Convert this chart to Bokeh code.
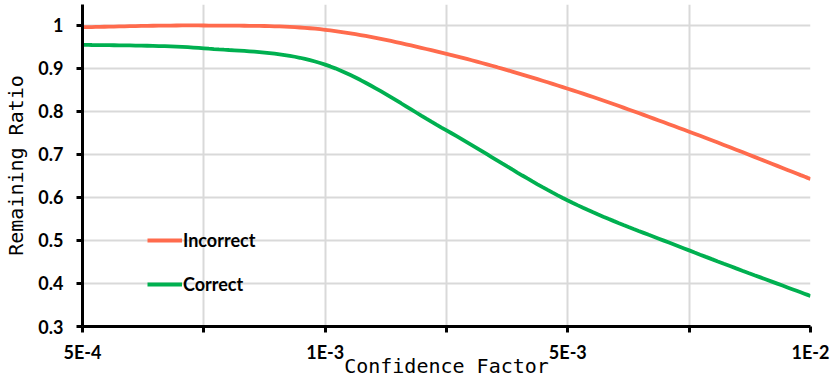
import numpy as np
from bokeh.plotting import figure
from bokeh.models import Legend, LegendItem, FixedTicker
from bokeh.embed import file_html
from bokeh.resources import INLINE

# ---- data ----
categories = ["5E-4", "", "1E-3", "", "5E-3", "", "1E-2"]
incorrect = [0.996, 1.000, 0.990, 0.934, 0.853, 0.753, 0.643]
correct = [0.955, 0.947, 0.909, 0.756, 0.593, 0.477, 0.371]
y_ticks = [0.3, 0.4, 0.5, 0.6, 0.7, 0.8, 0.9, 1.0]
y_tick_labels = ["0.3", "0.4", "0.5", "0.6", "0.7", "0.8", "0.9", "1"]
x_title = "Confidence Factor"
y_title = "Remaining Ratio"

ORANGE = "#FF6B4D"
GREEN = "#00B050"
GRID = "#D9D9D9"
Y0, Y1 = 0.3, 1.0488


def smooth(xs, ys, n=24):
    pts = np.column_stack([np.asarray(xs, float), np.asarray(ys, float)])
    out = []
    for i in range(len(pts) - 1):
        p0 = pts[i - 1] if i > 0 else pts[i]
        p1 = pts[i]
        p2 = pts[i + 1]
        p3 = pts[i + 2] if i + 2 < len(pts) else pts[i + 1]
        c1 = p1 + (p2 - p0) / 6.0
        c2 = p2 - (p3 - p1) / 6.0
        t = np.linspace(0, 1, n, endpoint=(i == len(pts) - 2))[:, None]
        seg = ((1 - t) ** 3) * p1 + 3 * ((1 - t) ** 2) * t * c1 + 3 * (1 - t) * t ** 2 * c2 + t ** 3 * p2
        out.append(seg)
    arr = np.vstack(out)
    return arr[:, 0], arr[:, 1]


xs = list(range(len(categories)))

p = figure(width=831, height=380, output_backend="svg", toolbar_location=None,
           x_range=(0, len(categories) - 1), y_range=(Y0, Y1),
           min_border_left=82, min_border_right=21, min_border_top=4, min_border_bottom=54)
p.outline_line_color = None
p.background_fill_color = "white"

p.xgrid.grid_line_color = GRID
p.xgrid.grid_line_width = 2
p.ygrid.grid_line_color = GRID
p.ygrid.grid_line_width = 2

for ax in (p.xaxis, p.yaxis):
    ax.axis_line_width = 3
    ax.axis_line_color = "black"
    ax.major_tick_line_width = 3
    ax.major_tick_out = 6
    ax.major_tick_in = 0
    ax.minor_tick_line_color = None
    ax.major_label_text_font = "Lato"
    ax.major_label_text_font_style = "bold"
    ax.major_label_text_font_size = "18px"
    ax.major_label_text_color = "black"
    ax.axis_label_text_font = "DejaVu Sans Mono"
    ax.axis_label_text_font_style = "normal"
    ax.axis_label_text_font_size = "20px"
    ax.axis_label_text_color = "black"

p.xaxis.ticker = FixedTicker(ticks=xs)
p.xaxis.major_label_overrides = {i: c for i, c in enumerate(categories)}
p.xaxis.major_label_standoff = 8
p.xaxis.axis_label = x_title
p.xaxis.axis_label_standoff = -12

p.yaxis.ticker = FixedTicker(ticks=y_ticks)
p.yaxis.major_label_overrides = {t: l for t, l in zip(y_ticks, y_tick_labels)}
p.yaxis.major_label_standoff = 13
p.yaxis.axis_label = y_title
p.yaxis.axis_label_standoff = 7

ix, iy = smooth(xs, incorrect)
cx, cy = smooth(xs, correct)
r_inc = p.line(ix, iy, line_color=ORANGE, line_width=3.8)
r_cor = p.line(cx, cy, line_color=GREEN, line_width=3.8)

legend = Legend(items=[LegendItem(label="Incorrect", renderers=[r_inc]),
                       LegendItem(label="Correct", renderers=[r_cor])],
                location=(65, 31), orientation="vertical",
                padding=0, margin=0, spacing=22,
                glyph_width=35, glyph_height=20, label_height=20, label_standoff=1,
                label_text_font="Lato", label_text_font_style="bold",
                label_text_font_size="18px", label_text_color="black",
                border_line_color=None, background_fill_alpha=0)
p.add_layout(legend)

open("out.html", "w").write(file_html(p, INLINE))
